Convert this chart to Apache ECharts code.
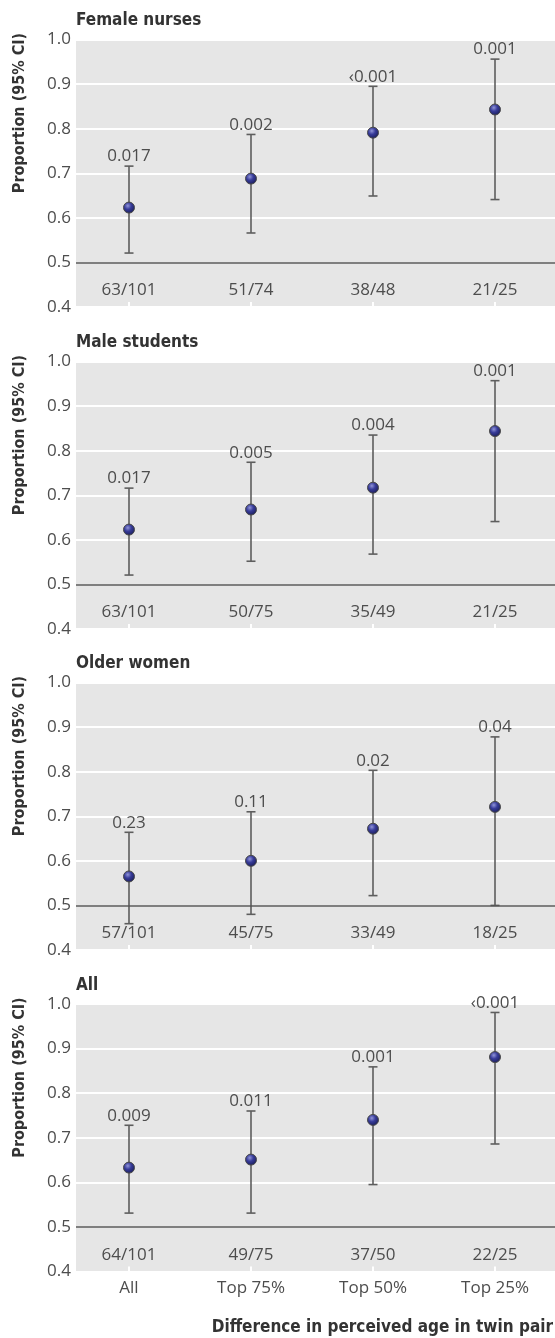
<!DOCTYPE html>
<html>
<head>
<meta charset="utf-8">
<script src="https://cdn.jsdelivr.net/npm/echarts@6/dist/echarts.min.js"></script>
<style>
  html, body { margin: 0; padding: 0; background: #fff; }
  #chart { width: 555px; height: 1338px; }
</style>
</head>
<body>
<div id="chart"></div>
<script>
// 分组 (x 轴)
const groups = ['All', 'Top 75%', 'Top 50%', 'Top 25%'];
const panelTitles = ['Female nurses', 'Male students', 'Older women', 'All'];

// Female nurses
const nurseProp = [0.623, 0.688, 0.791, 0.843];
const nurseLow = [0.521, 0.566, 0.649, 0.641];
const nurseHigh = [0.716, 0.787, 0.895, 0.956];
const nurseP = ['0.017', '0.002', '‹0.001', '0.001'];
const nurseCount = ['63/101', '51/74', '38/48', '21/25'];

// Male students
const maleProp = [0.623, 0.668, 0.717, 0.844];
const maleLow = [0.521, 0.552, 0.568, 0.641];
const maleHigh = [0.716, 0.774, 0.835, 0.957];
const maleP = ['0.017', '0.005', '0.004', '0.001'];
const maleCount = ['63/101', '50/75', '35/49', '21/25'];

// Older women
const olderProp = [0.565, 0.600, 0.672, 0.721];
const olderLow = [0.459, 0.480, 0.522, 0.500];
const olderHigh = [0.664, 0.710, 0.803, 0.878];
const olderP = ['0.23', '0.11', '0.02', '0.04'];
const olderCount = ['57/101', '45/75', '33/49', '18/25'];

// All
const allProp = [0.633, 0.651, 0.740, 0.881];
const allLow = [0.531, 0.531, 0.595, 0.686];
const allHigh = [0.728, 0.760, 0.859, 0.981];
const allP = ['0.009', '0.011', '0.001', '‹0.001'];
const allCount = ['64/101', '49/75', '37/50', '22/25'];

const yTicks = [0.4, 0.5, 0.6, 0.7, 0.8, 0.9, 1.0];
const countLabelY = 0.437;

const panels = [
  {prop: nurseProp, low: nurseLow, high: nurseHigh, p: nurseP, count: nurseCount},
  {prop: maleProp, low: maleLow, high: maleHigh, p: maleP, count: maleCount},
  {prop: olderProp, low: olderLow, high: olderHigh, p: olderP, count: olderCount},
  {prop: allProp, low: allLow, high: allHigh, p: allP, count: allCount},
];

const textFont = '"Open Sans", "Noto Sans", sans-serif';
const boldFont = '"Liberation Sans Narrow", "DejaVu Sans Condensed", sans-serif';
const textColor = '#4d4d4d';
const barColor = '#5e5e5e';
const gridTops = [39.5, 361.5, 682.5, 1004];
const gridHeight = 267.5;

let chart = echarts.init(document.getElementById('chart'), null, {renderer: 'canvas'});

let grids = [], xAxes = [], yAxes = [], series = [], graphics = [];

panels.forEach((panel, i) => {
  const top = gridTops[i];
  const isLast = i === panels.length - 1;
  grids.push({
    left: 76, right: 0, top: top, height: gridHeight,
    show: true, backgroundColor: '#e6e6e6', borderWidth: 0
  });
  xAxes.push({
    type: 'value', gridIndex: i,
    min: 0.5656, max: 4.4918,
    axisLine: {show: false},
    splitLine: {show: false},
    axisTick: {
      show: true, inside: true, length: 5, customValues: [1, 2, 3, 4],
      lineStyle: {color: '#ffffff', width: 2}
    },
    axisLabel: {
      show: isLast, customValues: [1, 2, 3, 4], margin: 8,
      fontFamily: textFont, fontSize: 17, color: textColor,
      formatter: (v) => groups[Math.round(v) - 1] || ''
    }
  });
  yAxes.push({
    type: 'value', gridIndex: i,
    min: yTicks[0], max: yTicks[yTicks.length - 1], interval: 0.1,
    axisLine: {show: false},
    axisTick: {show: false},
    splitLine: {show: true, lineStyle: {color: '#ffffff', width: 2}},
    axisLabel: {
      margin: 5, fontFamily: textFont, fontSize: 17, color: textColor,
      formatter: (v) => v.toFixed(1)
    }
  });

  const positions = panel.prop.map((_, k) => k + 1);

  // 误差线 + p 值
  series.push({
    type: 'custom', xAxisIndex: i, yAxisIndex: i, z: 3,
    data: positions.map((x, k) => [x, panel.low[k], panel.high[k]]),
    renderItem: (params, api) => {
      const x = api.value(0);
      const hi = api.coord([x, api.value(2)]);
      const lo = api.coord([x, api.value(1)]);
      const half = 4.5;
      const style = {stroke: barColor, lineWidth: 1.6};
      return {
        type: 'group',
        children: [
          {type: 'line', shape: {x1: hi[0], y1: hi[1], x2: lo[0], y2: lo[1]}, style},
          {type: 'line', shape: {x1: hi[0] - half, y1: hi[1], x2: hi[0] + half, y2: hi[1]}, style},
          {type: 'line', shape: {x1: lo[0] - half, y1: lo[1], x2: lo[0] + half, y2: lo[1]}, style},
          {
            type: 'text', x: hi[0], y: hi[1] - 1,
            style: {
              text: panel.p[params.dataIndex], fill: textColor,
              font: '17px ' + textFont, textAlign: 'center', textVerticalAlign: 'bottom'
            }
          }
        ]
      };
    },
    animation: false
  });

  // 计数标签
  series.push({
    type: 'custom', xAxisIndex: i, yAxisIndex: i, z: 2,
    data: positions.map((x) => [x, countLabelY]),
    renderItem: (params, api) => {
      const pt = api.coord([api.value(0), api.value(1)]);
      return {
        type: 'text', x: pt[0], y: pt[1],
        style: {
          text: panel.count[params.dataIndex], fill: textColor,
          font: '17px ' + textFont, textAlign: 'center', textVerticalAlign: 'middle'
        }
      };
    },
    animation: false
  });

  // 点
  series.push({
    type: 'scatter', xAxisIndex: i, yAxisIndex: i, z: 4,
    symbolSize: 11,
    data: positions.map((x, k) => [x, panel.prop[k]]),
    itemStyle: {
      color: new echarts.graphic.RadialGradient(0.4, 0.35, 0.65, [
        {offset: 0, color: '#9094d8'},
        {offset: 0.45, color: '#383c9a'},
        {offset: 1, color: '#1b1e5a'}
      ]),
      borderColor: '#4a4a4a', borderWidth: 1, opacity: 1
    },
    markLine: {
      silent: true, symbol: 'none', animation: false,
      label: {show: false},
      lineStyle: {color: '#555555', width: 1.6, type: 'solid'},
      data: [{yAxis: 0.5}]
    },
    animation: false
  });

  graphics.push({
    type: 'text', left: 76, top: top - 27,
    style: {text: panelTitles[i], font: 'bold 17px ' + boldFont, fill: '#333333'}
  });
  graphics.push({
    type: 'text', x: 20, y: top + 73.5, rotation: Math.PI / 2,
    style: {
      text: 'Proportion (95% CI)', font: 'bold 16px ' + boldFont, fill: '#333333',
      textAlign: 'center', textVerticalAlign: 'middle'
    }
  });
});

graphics.push({
  type: 'text', x: 553, y: 1328,
  style: {
    text: 'Difference in perceived age in twin pair', font: 'bold 17px ' + boldFont,
    fill: '#333333', textAlign: 'right', textVerticalAlign: 'middle'
  }
});

chart.setOption({
  animation: false,
  grid: grids,
  xAxis: xAxes,
  yAxis: yAxes,
  series: series,
  graphic: graphics
});
</script>
</body>
</html>
